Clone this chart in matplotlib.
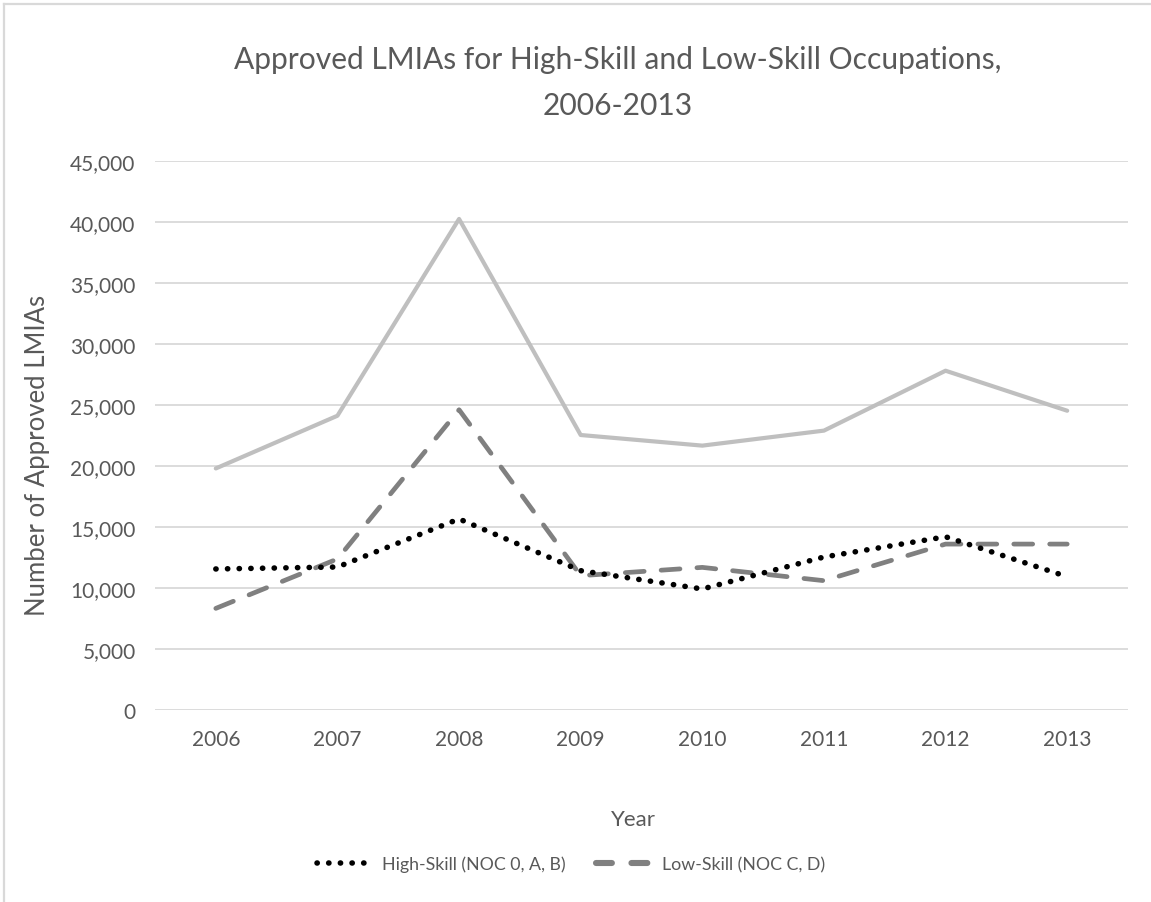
import matplotlib.pyplot as plt
from matplotlib.lines import Line2D
from matplotlib.ticker import FuncFormatter

years = ["2006", "2007", "2008", "2009", "2010", "2011", "2012", "2013"]
high_skill = [11560, 11720, 15660, 11420, 9920, 12540, 14200, 10930]
low_skill = [8330, 12380, 24610, 11010, 11690, 10600, 13600, 13600]
total = [19800, 24120, 40250, 22540, 21670, 22900, 27810, 24530]

plt.rcParams["font.family"] = ["Lato", "DejaVu Sans"]
text_col = "#595959"

fig = plt.figure(figsize=(11.51, 9.03), dpi=100)
ax = fig.add_axes([155 / 1151, 1 - 711 / 903, (1128 - 155) / 1151, (711 - 162) / 903])

x = list(range(len(years)))
ax.plot(x, total, color="#bfbfbf", lw=3.0, solid_capstyle="round", zorder=2)
ax.plot(x, low_skill, color="#808080", lw=3.4, dashes=(4.0, 3.6),
        dash_capstyle="round", zorder=3)
ax.plot(x, high_skill, color="black", lw=4.0, dashes=(0.05, 2.05),
        dash_capstyle="round", zorder=4)

ax.set_xlim(-0.5, len(years) - 0.5)
ax.set_ylim(0, 45000)
ax.set_yticks(range(0, 45001, 5000))
ax.yaxis.set_major_formatter(FuncFormatter(lambda v, p: f"{int(v):,}"))
ax.set_xticks(x)
ax.set_xticklabels(years)
ax.grid(axis="y", color="#d9d9d9", lw=1.3)
ax.set_axisbelow(True)
for s in ax.spines.values():
    s.set_visible(False)
ax.tick_params(length=0, labelsize=15, labelcolor=text_col)
ax.tick_params(axis="y", pad=14)
ax.tick_params(axis="x", pad=14)

fig.text(0.537, 1 - 60 / 903, "Approved LMIAs for High-Skill and Low-Skill Occupations,",
         ha="center", va="center", fontsize=21.6, color=text_col)
fig.text(0.537, 1 - 106 / 903, "2006-2013",
         ha="center", va="center", fontsize=21.6, color=text_col)
fig.text(38 / 1151, 1 - 455 / 903, "Number of Approved LMIAs", rotation=90,
         ha="center", va="center", fontsize=18.5, color=text_col)
fig.text(633 / 1151, 1 - 820 / 903, "Year", ha="center", va="center",
         fontsize=16, color=text_col)

handles = [
    Line2D([], [], color="black", lw=4.0, dashes=(0.05, 2.05), dash_capstyle="round"),
    Line2D([], [], color="#808080", lw=4.4, dashes=(2.6, 3.2), dash_capstyle="round"),
]
leg = fig.legend(handles, ["High-Skill (NOC 0, A, B)", "Low-Skill (NOC C, D)"],
                 loc="center", bbox_to_anchor=(0.496, 1 - 865 / 903), ncol=2,
                 frameon=False, fontsize=12.8, handlelength=3.2, handletextpad=0.5,
                 columnspacing=1.7)
for t in leg.get_texts():
    t.set_color(text_col)

fig.add_artist(Line2D([4 / 1151, 4 / 1151], [0, 1 - 5 / 903], color="#d9d9d9", lw=1.6))
fig.add_artist(Line2D([4 / 1151, 1], [1 - 5 / 903, 1 - 5 / 903], color="#d9d9d9", lw=1.6))

fig.savefig("out.png", dpi=100)
